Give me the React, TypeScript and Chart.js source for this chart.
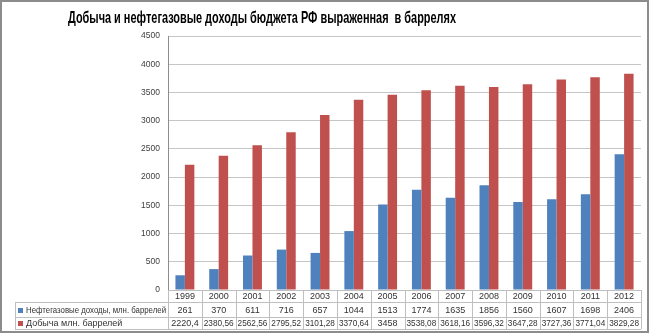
import React, { useEffect, useRef } from "react";
import { Chart, registerables } from "chart.js";

Chart.register(...registerables);

const title = "Добыча и нефтегазовые доходы бюджета РФ выраженная  в баррелях";
const years = ["1999", "2000", "2001", "2002", "2003", "2004", "2005", "2006", "2007", "2008", "2009", "2010", "2011", "2012"];
const incomeLabel = "Нефтегазовые доходы, млн. баррелей";
const incomeValues = [261, 370, 611, 716, 657, 1044, 1513, 1774, 1635, 1856, 1560, 1607, 1698, 2406];
const productionLabel = "Добыча млн. баррелей";
const productionValues = [2220.4, 2380.56, 2562.56, 2795.52, 3101.28, 3370.64, 3458, 3538.08, 3618.16, 3596.32, 3647.28, 3727.36, 3771.04, 3829.28];
const yTicksMax = 4500;
const yTicksStep = 500;

const BLUE = "#4F81BD";
const RED = "#C0504D";
const NARROW = "'Liberation Sans Narrow', 'Liberation Sans', sans-serif";
const FONT = "'Liberation Sans', 'DejaVu Sans', sans-serif";

const fmt = (v: number) => String(v).replace(".", ",");

const tablePlugin = {
  id: "dataTable",
  afterDraw(chart: any) {
    const ctx = chart.ctx as CanvasRenderingContext2D;
    const area = chart.chartArea;
    const left = area.left;
    const right = area.right;
    const n = years.length;
    const w = (right - left) / n;
    const yTop = area.bottom;
    const r1 = yTop + 12;
    const r2 = r1 + 15;
    const r3 = r2 + 12;
    const legLeft = 15;
    ctx.save();
    ctx.strokeStyle = "#bfbfbf";
    ctx.lineWidth = 1;
    ctx.beginPath();
    ctx.moveTo(left, Math.round(yTop) + 0.5); ctx.lineTo(right, Math.round(yTop) + 0.5);
    ctx.moveTo(legLeft, Math.round(r1) + 0.5); ctx.lineTo(right, Math.round(r1) + 0.5);
    ctx.moveTo(legLeft, Math.round(r2) + 0.5); ctx.lineTo(right, Math.round(r2) + 0.5);
    ctx.moveTo(legLeft, Math.round(r3) + 0.5); ctx.lineTo(right, Math.round(r3) + 0.5);
    ctx.moveTo(legLeft + 0.5, r1); ctx.lineTo(legLeft + 0.5, r3);
    for (let i = 0; i <= n; i++) {
      const x = Math.round(left + i * w) + 0.5;
      ctx.moveTo(x, yTop); ctx.lineTo(x, r3);
    }
    ctx.stroke();

    ctx.fillStyle = "#333333";
    ctx.font = `9px ${FONT}`;
    ctx.textBaseline = "middle";
    ctx.textAlign = "center";
    for (let i = 0; i < n; i++) {
      const cx = left + (i + 0.5) * w;
      ctx.fillText(years[i], cx, (yTop + r1) / 2 + 1, w - 6);
      ctx.fillText(fmt(incomeValues[i]), cx, (r1 + r2) / 2 + 1, w - 6);
      ctx.fillText(fmt(productionValues[i]), cx, (r2 + r3) / 2 + 1, w - 4);
    }
    ctx.textAlign = "left";
    ctx.fillStyle = BLUE;
    ctx.fillRect(legLeft + 3, Math.round((r1 + r2) / 2) - 2, 5, 5);
    ctx.fillStyle = RED;
    ctx.fillRect(legLeft + 3, Math.round((r2 + r3) / 2) - 2, 5, 5);
    ctx.fillStyle = "#333333";
    ctx.fillText(incomeLabel, legLeft + 11, (r1 + r2) / 2 + 1, 140);
    ctx.fillText(productionLabel, legLeft + 11, (r2 + r3) / 2 + 1, 140);

    // title
    ctx.font = `bold 17px ${NARROW}`;
    ctx.textAlign = "center";
    ctx.fillStyle = "#000000";
    ctx.fillText(title, 262, 18, 388);

    // outer border
    ctx.strokeStyle = "#8c8c8c";
    ctx.lineWidth = 2;
    ctx.strokeRect(1, 1, 647, 331);
    ctx.restore();
  },
};

export default function App() {
  const ref = useRef<HTMLCanvasElement | null>(null);
  useEffect(() => {
    document.body.style.margin = "0";
    const canvas = ref.current!;
    const chart = new Chart(canvas, {
      type: "bar",
      data: {
        labels: years,
        datasets: [
          { label: incomeLabel, data: incomeValues, backgroundColor: BLUE, categoryPercentage: 0.56, barPercentage: 1 },
          { label: productionLabel, data: productionValues, backgroundColor: RED, categoryPercentage: 0.56, barPercentage: 1 },
        ],
      },
      options: {
        responsive: false,
        animation: false,
        devicePixelRatio: 1,
        layout: { padding: { left: 0, right: 9, top: 36, bottom: 45 } },
        plugins: { legend: { display: false }, title: { display: false }, tooltip: { enabled: false } },
        scales: {
          x: { display: false, grid: { display: false } },
          y: {
            min: 0,
            max: yTicksMax,
            afterFit: (s: any) => { s.width = 168; },
            ticks: {
              stepSize: yTicksStep,
              padding: 8,
              color: "#404040",
              font: { family: FONT, size: 8.5 },
              callback: (v: any) => String(v),
            },
            grid: { color: "#c6c6c6", drawTicks: false },
            border: { color: "#8c8c8c" },
          },
        },
      },
      plugins: [tablePlugin],
    });
    return () => chart.destroy();
  }, []);
  return (
    <div style={{ position: "absolute", left: 0, top: 0, width: 650, height: 335, background: "#fff" }}>
      <canvas ref={ref} width={650} height={335} />
    </div>
  );
}
